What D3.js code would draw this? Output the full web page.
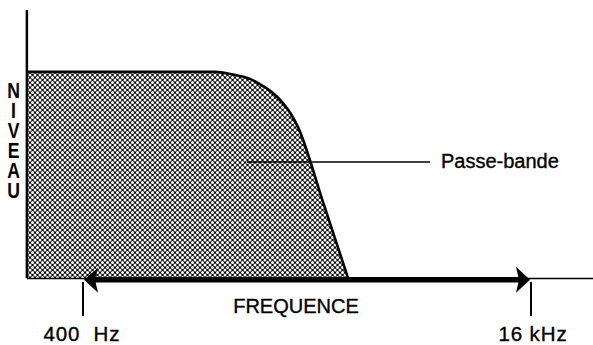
<!DOCTYPE html>
<html>
<head>
<meta charset="utf-8">
<script src="https://cdn.jsdelivr.net/npm/d3@7/dist/d3.min.js"></script>
<style>
  html, body { margin: 0; padding: 0; background: #fff; }
  svg { display: block; }
  text { font-family: "Liberation Sans", Arial, Helvetica, sans-serif; fill: #000; stroke: #000; stroke-width: 0.35px; }
  .vtitle { writing-mode: vertical-rl; text-orientation: upright; }
</style>
</head>
<body>
<svg id="chart" width="593" height="345"></svg>
<script>
// Band response: level against frequency (Hz)
const freqHz = [252, 1186, 1375, 1582, 1761, 1912, 2076, 2217, 2349, 2886, 3546];
const levels = [76.9, 76.9, 75.9, 74.3, 71.6, 69.0, 65.3, 61.2, 56.3, 28.4, 0];

// Frequency markers under the axis
const tickValues = [400, 16000];
const tickLabels = ["400  Hz", "16 kHz"];

const yTitle = "NIVEAU";
const xTitle = "FREQUENCE";
const bandLabel = "Passe-bande";
const bandLeader = [1543, 6965]; // Hz, start/end of the leader line
const bandLevel = 43.3;

const svg = d3.select("#chart");

const x = d3.scaleLog().domain([400, 16000]).range([83, 531]);
const y = d3.scaleLinear().domain([0, 100]).range([278, 10]);

// Cross-hatch fill: white holes on a black diagonal grid
const defs = svg.append("defs");
const pat = defs.append("pattern")
  .attr("id", "hatch")
  .attr("patternUnits", "userSpaceOnUse")
  .attr("width", 5).attr("height", 5);
pat.append("rect").attr("width", 5).attr("height", 5).attr("fill", "#000");
[[2.5, 2.5], [0, 0], [5, 0], [0, 5], [5, 5]].forEach(([cx, cy]) => {
  pat.append("circle").attr("cx", cx).attr("cy", cy).attr("r", 1.5).attr("fill", "#fff");
});

const pts = freqHz.map((f, i) => [x(f), y(levels[i])]);

// Filled band area
const area = d3.area()
  .x(d => d[0]).y0(y(0)).y1(d => d[1])
  .curve(d3.curveMonotoneX);
svg.append("path")
  .datum(pts)
  .attr("d", area)
  .attr("fill", "url(#hatch)");

// Band outline
const line = d3.line().x(d => d[0]).y(d => d[1]).curve(d3.curveMonotoneX);
svg.append("path")
  .datum(pts)
  .attr("d", line)
  .attr("fill", "none")
  .attr("stroke", "#000")
  .attr("stroke-width", 2.6);

// Vertical (level) axis
svg.append("line")
  .attr("x1", x(freqHz[0])).attr("x2", x(freqHz[0]))
  .attr("y1", y(100)).attr("y2", y(0))
  .attr("stroke", "#000").attr("stroke-width", 2.5);

// Thin baseline running the full width
svg.append("line")
  .attr("x1", x(freqHz[0])).attr("x2", 593)
  .attr("y1", y(0) + 0.5).attr("y2", y(0) + 0.5)
  .attr("stroke", "#000").attr("stroke-width", 1.6);

// Thick double-headed frequency arrow between the two markers
const ay = y(0) + 1.8;
const x0 = x(tickValues[0]), x1 = x(tickValues[1]);
svg.append("line")
  .attr("x1", x0 + 10).attr("x2", x1 - 10)
  .attr("y1", ay).attr("y2", ay)
  .attr("stroke", "#000").attr("stroke-width", 5.5);
svg.append("path")
  .attr("d", `M${x0 + 1},${ay} L${x0 + 15},${ay - 12} L${x0 + 12},${ay} L${x0 + 15},${ay + 13} Z`)
  .attr("fill", "#000");
svg.append("path")
  .attr("d", `M${x1 - 1},${ay} L${x1 - 15},${ay - 13} L${x1 - 12},${ay} L${x1 - 15},${ay + 13} Z`)
  .attr("fill", "#000");

// Marker ticks and labels
tickValues.forEach((v, i) => {
  svg.append("line")
    .attr("x1", x(v)).attr("x2", x(v))
    .attr("y1", y(0) + 4).attr("y2", y(0) + 38)
    .attr("stroke", "#000").attr("stroke-width", 2);
  svg.append("text")
    .attr("x", x(v) + (i === 0 ? -1 : 2))
    .attr("y", 341)
    .attr("text-anchor", "middle")
    .attr("font-size", 20.5)
    .attr("letter-spacing", 0.9)
    .attr("xml:space", "preserve")
    .style("white-space", "pre")
    .text(tickLabels[i]);
});

// Axis titles
svg.append("text")
  .attr("x", 296).attr("y", 313)
  .attr("text-anchor", "middle")
  .attr("font-size", 20)
  .text(xTitle);

// Level title: upright letters stacked in a vertical run
svg.append("text")
  .attr("class", "vtitle")
  .attr("transform", "translate(13.5, 78) scale(0.8, 1)")
  .attr("x", 0).attr("y", 0)
  .attr("font-size", 22)
  .attr("font-weight", "bold")
  .attr("letter-spacing", -4.3)
  .style("stroke-width", "0px")
  .text(yTitle);

// Pass-band annotation with leader line
svg.append("line")
  .attr("x1", x(bandLeader[0])).attr("x2", x(bandLeader[1]))
  .attr("y1", y(bandLevel)).attr("y2", y(bandLevel))
  .attr("stroke", "#000").attr("stroke-width", 1.6);
svg.append("text")
  .attr("x", x(bandLeader[1]) + 11).attr("y", y(bandLevel) + 6.5)
  .attr("font-size", 20)
  .text(bandLabel);
</script>
</body>
</html>
